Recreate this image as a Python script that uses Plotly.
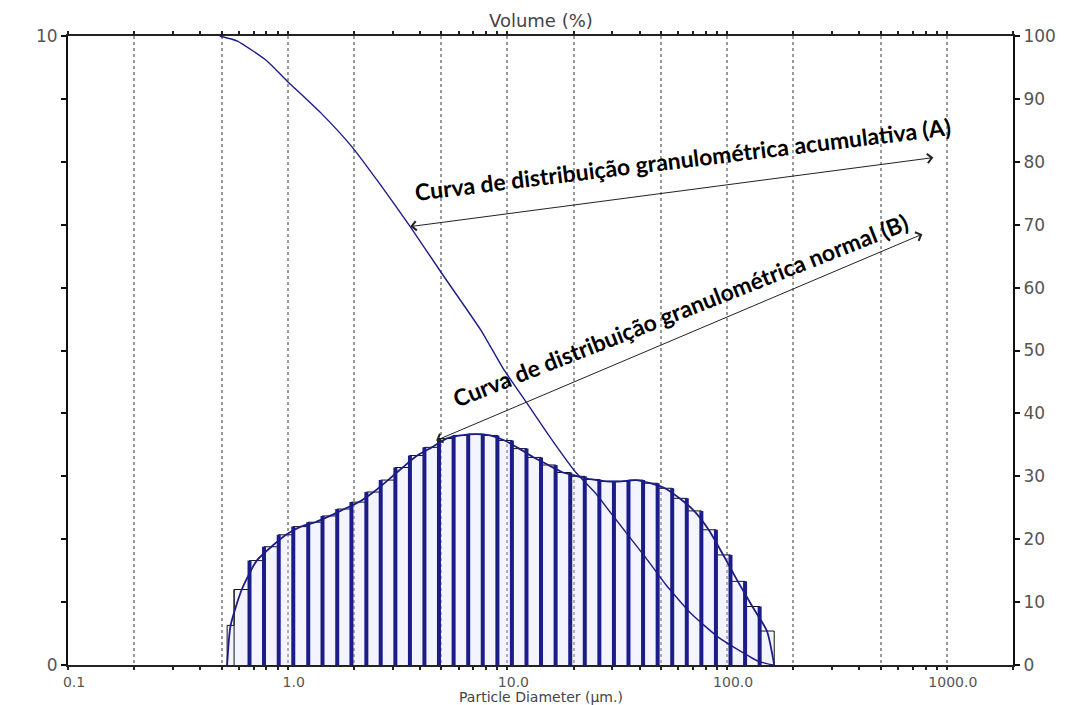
import math
import plotly.graph_objects as go

# Size classes (µm) and the volume fraction (%) that falls in each class
bin_edges = [0.53, 0.57, 0.67, 0.78, 0.91, 1.06, 1.24, 1.44, 1.68, 1.95, 2.28, 2.65,
             3.09, 3.60, 4.19, 4.88, 5.69, 6.63, 7.72, 9.00, 10.48, 12.21, 14.22,
             16.57, 19.31, 22.49, 26.20, 30.53, 35.56, 41.43, 48.27, 56.23, 65.51,
             76.32, 88.91, 103.58, 120.67, 140.58, 163.77]
volume_pct = [0.63, 1.20, 1.66, 1.88, 2.07, 2.20, 2.27, 2.37, 2.48, 2.59, 2.75, 2.94,
              3.14, 3.33, 3.46, 3.60, 3.65, 3.67, 3.65, 3.57, 3.44, 3.30, 3.18, 3.06,
              3.00, 2.95, 2.92, 2.92, 2.94, 2.89, 2.81, 2.65, 2.45, 2.15, 1.75, 1.33,
              0.93, 0.54]

# Cumulative (oversize) curve, right axis in %
cum_diameter = [0.49, 0.59, 0.80, 0.99, 1.44, 1.97, 2.61, 3.61, 5.04, 7.58, 9.54, 12.4,
                15.8, 20.5, 25.2, 29.8, 42.5, 52.5, 68.9, 91.3, 138.7, 162.0]
cum_volume = [100.0, 99.2, 96.1, 92.9, 87.5, 82.3, 76.6, 69.7, 62.2, 53.2, 47.2, 41.4,
              36.0, 30.6, 27.3, 24.0, 17.1, 12.8, 8.1, 4.4, 0.6, 0.0]

# Axis ticks
grid_vals = [0.1, 0.2, 0.5, 1, 2, 5, 10, 20, 50, 100, 200, 500, 1000]
grid_text = ["0.1", "", "", "1.0", "", "", "10.0", "", "", "100.0", "", "", "1000.0"]
minor_vals = [0.3, 0.4, 0.6, 0.7, 0.8, 0.9, 3, 4, 6, 7, 8, 9, 30, 40, 60, 70, 80, 90,
              300, 400, 600, 700, 800, 900, 2000]

NAVY = "#1c1c88"
LABEL_FONT = dict(family="DejaVu Sans", size=15, color="#555555")

fig = go.Figure()

# histogram body: stepped polygon
px, py = [bin_edges[0]], [0.0]
for i, h in enumerate(volume_pct):
    px += [bin_edges[i], bin_edges[i + 1]]
    py += [h, h]
px.append(bin_edges[-1])
py.append(0.0)
fig.add_trace(go.Scatter(x=px, y=py, mode="lines", fill="toself",
                         fillcolor="rgba(220,220,252,0.30)",
                         line=dict(color="#111111", width=1),
                         hoverinfo="skip", showlegend=False))

# thin side of every bar
sx, sy = [], []
for i in range(1, len(bin_edges) - 1):
    sx += [bin_edges[i], bin_edges[i], None]
    sy += [0, max(volume_pct[i - 1], volume_pct[i]), None]
fig.add_trace(go.Scatter(x=sx, y=sy, mode="lines",
                         line=dict(color="#111111", width=1),
                         hoverinfo="skip", showlegend=False))

# heavy bar separators
tx, ty = [], []
for i in range(2, len(bin_edges) - 1):
    tx += [bin_edges[i], bin_edges[i], None]
    ty += [0, max(volume_pct[i - 1], volume_pct[i]), None]
fig.add_trace(go.Scatter(x=tx, y=ty, mode="lines",
                         line=dict(color=NAVY, width=4),
                         hoverinfo="skip", showlegend=False))

# smooth frequency curve over the bars
centers = [math.sqrt(bin_edges[i] * bin_edges[i + 1]) for i in range(len(volume_pct))]
fig.add_trace(go.Scatter(x=[bin_edges[0]] + centers + [bin_edges[-1]],
                         y=[0.0] + volume_pct + [0.0],
                         mode="lines", line=dict(color=NAVY, width=1.8, shape="spline",
                                                 smoothing=0.6),
                         hoverinfo="skip", showlegend=False))

# cumulative curve on the % axis
fig.add_trace(go.Scatter(x=cum_diameter, y=cum_volume, yaxis="y2", mode="lines",
                         line=dict(color=NAVY, width=1.4, shape="spline", smoothing=0.5),
                         hoverinfo="skip", showlegend=False))

fig.update_layout(
    width=1067, height=705,
    margin=dict(l=68, r=54, t=36, b=40),
    paper_bgcolor="white", plot_bgcolor="white",
    xaxis=dict(type="log", range=[-1, math.log10(2000)],
               tickmode="array", tickvals=grid_vals, ticktext=grid_text,
               showgrid=True, gridcolor="#9a9a9a", griddash="dot", gridwidth=2,
               ticks="outside", ticklen=3, tickwidth=1.5, tickcolor="#222222",
               minor=dict(tickmode="array", tickvals=minor_vals, ticks="outside",
                          ticklen=3, tickwidth=1.5, tickcolor="#222222", showgrid=False),
               showline=True, linecolor="#222222", linewidth=2, mirror="allticks",
               zeroline=False, tickfont=dict(LABEL_FONT, size=14), ticklabelshift=6),
    yaxis=dict(range=[0, 10], tickmode="array", tickvals=list(range(11)),
               ticktext=["0"] + [""] * 9 + ["10"],
               ticks="outside", ticklen=5, tickwidth=1.5, tickcolor="#111111",
               showline=True, linecolor="#111111", linewidth=2,
               showgrid=False, zeroline=False, tickfont=dict(LABEL_FONT, size=17)),
    yaxis2=dict(range=[0, 100], overlaying="y", side="right", tickmode="array",
                tickvals=list(range(0, 101, 10)),
                ticks="outside", ticklen=5, tickwidth=1.5, tickcolor="#111111",
                showline=True, linecolor="#111111", linewidth=2,
                showgrid=False, zeroline=False, tickfont=dict(LABEL_FONT, size=17)),
    showlegend=False,
)

fig.add_annotation(text="Volume (%)", xref="paper", yref="paper", x=0.5, y=1,
                   yanchor="bottom", yshift=3, showarrow=False,
                   font=dict(family="DejaVu Sans", size=18, color="#444444"))
fig.add_annotation(text="Particle Diameter (µm.)", xref="paper", yref="paper",
                   x=0.5, y=0, yanchor="top", yshift=-22, showarrow=False,
                   font=dict(family="DejaVu Sans", size=14, color="#444444"))

# double-headed pointers and their captions
arrow_style = dict(showarrow=True, arrowside="end+start", arrowhead=4, arrowsize=1.8,
                   arrowwidth=1, arrowcolor="#222222", text="", xref="x", yref="y",
                   axref="x", ayref="y", standoff=0, startstandoff=0)
fig.add_annotation(x=math.log10(3.61), y=6.97, ax=math.log10(882), ay=8.07, **arrow_style)
fig.add_annotation(x=math.log10(4.74), y=3.57, ax=math.log10(786), ay=6.86, **arrow_style)

caption_font = dict(family="Lato", size=23, color="#000000", weight="bold")
fig.add_annotation(text="Curva de distribuição granulométrica acumulativa (A)",
                   x=1.801, y=8.04, xref="x", yref="y", showarrow=False,
                   textangle=-7, font=caption_font)
fig.add_annotation(text="Curva de distribuição granulométrica normal (B)",
                   x=1.788, y=5.64, xref="x", yref="y", showarrow=False,
                   textangle=-21.5, font=caption_font)

fig.write_html("out.html")
